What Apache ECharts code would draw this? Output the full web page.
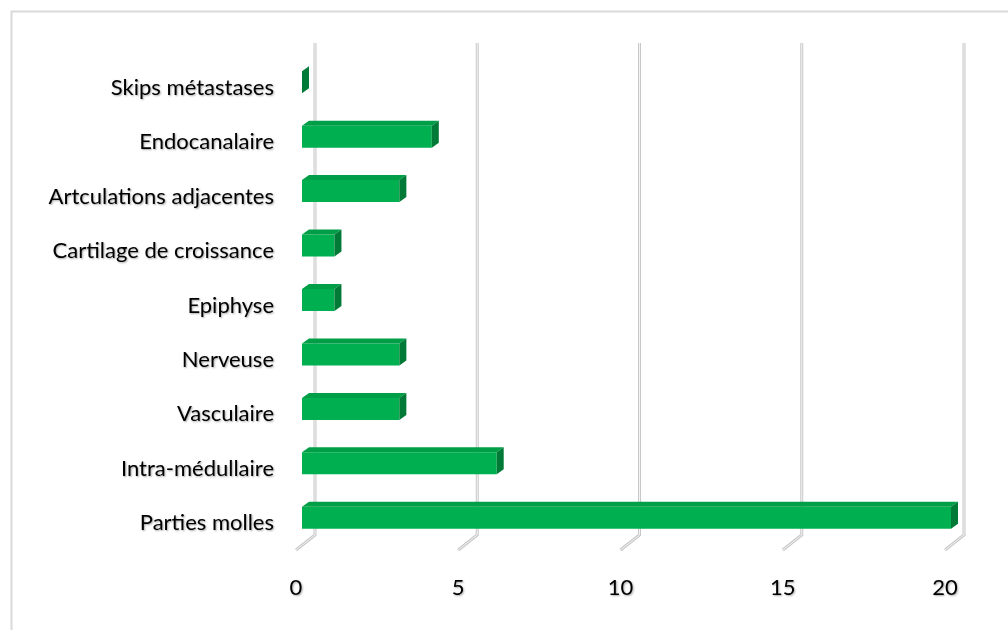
<!DOCTYPE html>
<html>
<head>
<meta charset="utf-8">
<title>Extension</title>
<script src="https://cdn.jsdelivr.net/npm/echarts@6/dist/echarts.min.js"></script>
<style>
  html, body { margin: 0; padding: 0; background: #fff; }
  #main { width: 1008px; height: 630px; }
</style>
</head>
<body>
<div id="main"></div>
<script>
// categories, top to bottom as in the picture
var categories = ['Skips métastases', 'Endocanalaire', 'Artculations adjacentes',
  'Cartilage de croissance', 'Epiphyse', 'Nerveuse', 'Vasculaire',
  'Intra-médullaire', 'Parties molles'];
var values = [0, 4, 3, 1, 1, 3, 3, 6, 20];
var xTicks = [0, 5, 10, 15, 20];

var myChart = echarts.init(document.getElementById('main'));

var labelFont = {
  color: '#000',
  fontFamily: 'Lato',
  fontSize: 22,
  textShadowColor: 'rgba(0,0,0,0.35)',
  textShadowBlur: 2,
  textShadowOffsetX: 1,
  textShadowOffsetY: 1
};

// back wall lines + floor diagonals
function renderGrid(params, api) {
  var cs = params.coordSys;
  var x = api.coord([api.value(0), 0])[0];
  var top = cs.y, bottom = cs.y + cs.height;
  var pts = [[x + 19, top - 12], [x + 19, bottom - 10], [x, bottom + 5]];
  return {
    type: 'group',
    children: [
      { type: 'polyline', shape: { points: pts }, style: { stroke: '#c8c8c8', lineWidth: 3, fill: null } },
      { type: 'polyline', shape: { points: pts }, style: { stroke: '#f4f4f4', lineWidth: 1, fill: null } }
    ]
  };
}

// 3d-ish bar: front, top and right side
function renderBar(params, api) {
  var cat = api.value(1);
  var p0 = api.coord([0, cat]);
  var p1 = api.coord([api.value(0), cat]);
  var x0 = p0[0] + 6, x1 = p1[0] + 6;
  var h = 22, dx = 7, dy = 5;
  var y0 = p0[1] - h / 2, y1 = p0[1] + h / 2;
  return {
    type: 'group',
    children: [
      { type: 'rect', shape: { x: x0, y: y0, width: x1 - x0, height: h }, style: { fill: '#00b050' } },
      { type: 'polygon', shape: { points: [[x0, y0], [x0 + dx, y0 - dy], [x1 + dx, y0 - dy], [x1, y0]] }, style: { fill: '#009e47' } },
      { type: 'polygon', shape: { points: [[x1, y0], [x1 + dx, y0 - dy], [x1 + dx, y1 - dy], [x1, y1]] }, style: { fill: '#007a36' } }
    ]
  };
}

var option = {
  animation: false,
  graphic: [{
    type: 'rect', left: 9, top: 9,
    shape: { width: 1010, height: 630 },
    style: { fill: null, stroke: '#d9d9d9', lineWidth: 2 }
  }],
  grid: { left: 296, right: 63, top: 55, bottom: 85 },
  xAxis: {
    type: 'value', min: 0, max: 20, interval: 5,
    axisLine: { show: false }, axisTick: { show: false }, splitLine: { show: false },
    axisLabel: Object.assign({ margin: 32 }, labelFont)
  },
  yAxis: {
    type: 'category', data: categories, inverse: true,
    axisLine: { show: false }, axisTick: { show: false },
    axisLabel: Object.assign({
      margin: 22,
      formatter: function (v) { return '{c|' + v + '}'; },
      rich: { c: Object.assign({ padding: [11, 0, 0, 0] }, labelFont) }
    }, labelFont)
  },
  series: [{
    type: 'custom',
    renderItem: renderGrid,
    encode: { x: 0, y: 1 },
    data: xTicks.map(function (t) { return [t, 0]; }),
    z: 1
  }, {
    type: 'custom',
    renderItem: renderBar,
    encode: { x: 0, y: 1 },
    data: values.map(function (v, i) { return [v, i]; }),
    z: 2
  }]
};
myChart.setOption(option);
</script>
</body>
</html>
